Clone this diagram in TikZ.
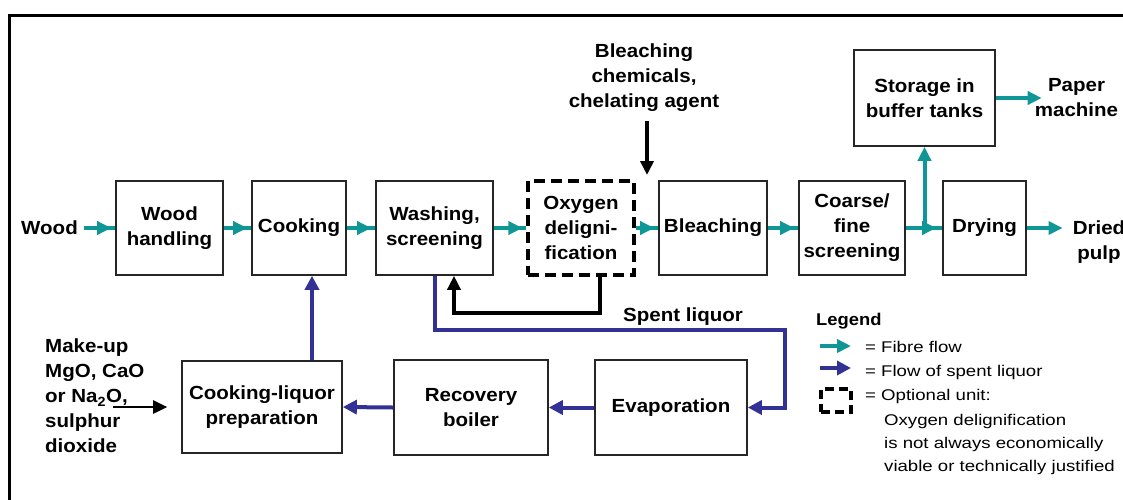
\documentclass[tikz,border=0pt]{standalone}
\usepackage{fontspec}
\setmainfont{Liberation Sans}
\newfontfamily\unitfont[FakeStretch=1.08]{Liberation Sans}
\newfontfamily\notefont[FakeStretch=1.2]{Liberation Sans}
\usetikzlibrary{arrows.meta,decorations.markings,calc}
\definecolor{fibre}{RGB}{15,150,150}
\definecolor{liquor}{RGB}{50,50,150}
\begin{document}
\begin{tikzpicture}[x=1pt, y=-1pt,
  unit/.style={draw=black!85, line width=1.6pt, inner sep=0pt, align=center,
    font=\unitfont\bfseries\fontsize{19}{25}\selectfont},
  optional/.style={unit, draw=black, line width=3.2pt, dash pattern=on 11pt off 6pt},
  tag/.style={inner sep=0pt, align=center,
    font=\unitfont\bfseries\fontsize{19}{25}\selectfont},
  legendtext/.style={inner sep=0pt, align=left,
    font=\notefont\fontsize{15.5}{23}\selectfont},
  fibreflow/.style={color=fibre, line width=4pt, postaction=decorate,
    decoration={markings, mark=at position -#1 with {\arrow{Triangle[length=14pt,width=13pt]}}}},
  fibreflow/.default=4pt,
  fibreto/.style={color=fibre, line width=4pt, -{Triangle[length=14pt,width=13pt]}},
  liquorflow/.style={color=liquor, line width=4pt, -{Triangle[length=14pt,width=14pt]}},
  feed/.style={draw=black, line width=3.8pt, -{Triangle[length=14pt,width=13pt]}},
]
\useasboundingbox (0,0) rectangle (1123,499);
% outer frame
\draw[line width=3pt] (9,510) -- (9,15) -- (1135,15);

% fibre line units
\node[tag] (wood) at (49.5,228) {Wood};
\node[unit, minimum width=107pt, minimum height=94pt] (woodh) at (169.5,228) {Wood\\handling};
\node[unit, minimum width=94pt, minimum height=94pt] (cook) at (299,228) {Cooking};
\node[unit, minimum width=117pt, minimum height=94pt] (wash) at (434.5,228) {Washing,\\screening};
\node[optional, minimum width=106pt, minimum height=94pt] (oxy) at (581,228) {Oxygen\\deligni-\\fication};
\node[unit, minimum width=108pt, minimum height=94pt] (bleach) at (713,228) {Bleaching};
\node[unit, minimum width=106pt, minimum height=94pt] (coarse) at (852,228) {Coarse/\\fine\\screening};
\node[unit, minimum width=83pt, minimum height=94pt] (dry) at (984.5,228) {Drying};
\node[unit, minimum width=141pt, minimum height=96pt] (storage) at (924.5,98) {Storage in\\buffer tanks};
\node[tag] (paper) at (1076.5,98) {Paper\\machine};
\node[tag] (dried) at (1099,242) {Dried\\pulp};
\node[tag] (chem) at (644,78) {Bleaching\\chemicals,\\chelating agent};

% recovery line units
\node[unit, minimum width=160pt, minimum height=92pt] (cliq) at (262,407) {Cooking-liquor\\preparation};
\node[unit, minimum width=154pt, minimum height=95pt] (recov) at (471,407.5) {Recovery\\boiler};
\node[unit, minimum width=152pt, minimum height=95pt] (evap) at (671,407.5) {Evaporation};
\node[tag, align=left, anchor=west] (makeup) at (45,396) {Make-up\\MgO, CaO\\or Na\textsubscript{2}O,\\sulphur\\dioxide};
\node[tag] (spent) at (683,317) {Spent liquor};

% fibre flow
\draw[fibreflow, shorten <=6pt] (wood.east) -- (woodh.west);
\draw[fibreflow] (woodh.east) -- (cook.west);
\draw[fibreflow] (cook.east) -- (wash.west);
\draw[fibreflow] (wash.east) -- (oxy.west);
\draw[fibreflow] (oxy.east) -- (bleach.west);
\draw[fibreflow] (bleach.east) -- (coarse.west);
\draw[fibreflow=6pt] (coarse.east) -- (dry.west);
\coordinate (split) at (storage.south |- coarse.east);
\draw[fibreto] (split) -- (storage.south);
\draw[fibreto] (storage.east) -- ($(paper.west)+(7,0)$);
\draw[fibreto, shorten >=10pt] (dry.east) -- (dried.west |- dry.east);

% chemical feeds
\coordinate (chemtip) at (647,175);
\draw[feed, shorten <=9pt] (chem.south -| chemtip) -- (chemtip);
\coordinate (makeupstart) at (113,407);
\draw[feed, line width=2.6pt, shorten >=14pt] (makeupstart) -- (cliq.west);

% spent liquor and recovery
\coordinate (liqturn) at (785,330);
\draw[liquorflow] (wash.south) |- (liqturn) |- (evap.east);
\draw[liquorflow] (evap.west) -- (recov.east);
\draw[liquorflow] (recov.west) -- (cliq.east);
\coordinate (upx) at (312,0);
\draw[liquorflow] (cliq.north -| upx) -- (cook.south -| upx);

% return from oxygen delignification
\coordinate (retx) at (600,0);
\coordinate (retcorner) at (454,313);
\draw[feed] (oxy.south -| retx) |- (retcorner) -- (wash.south -| retcorner);

% legend
\node[tag, anchor=west, font=\unitfont\bfseries\fontsize{17}{20}\selectfont] (legend) at (816,321) {Legend};
\coordinate (lf1) at (820,346);
\coordinate (lf2) at (851,346);
\draw[fibreto] (lf1) -- (lf2);
\node[legendtext, anchor=west] (lfib) at (865,347) {= Fibre flow};
\coordinate (ll1) at (820,368);
\coordinate (ll2) at (851,368);
\draw[liquorflow] (ll1) -- (ll2);
\node[legendtext, anchor=west] (lliq) at (865,372) {= Flow of spent liquor};
\node[optional, minimum width=30pt, minimum height=23pt, dash pattern=on 9pt off 5pt] (lopt) at (836,400.5) {};
\node[legendtext, anchor=west] (lopttxt) at (865,396) {= Optional unit:};
\node[legendtext] (lnote) at (884,444) [anchor=west] {Oxygen delignification\\is not always economically\\viable or technically justified};
\end{tikzpicture}
\end{document}
